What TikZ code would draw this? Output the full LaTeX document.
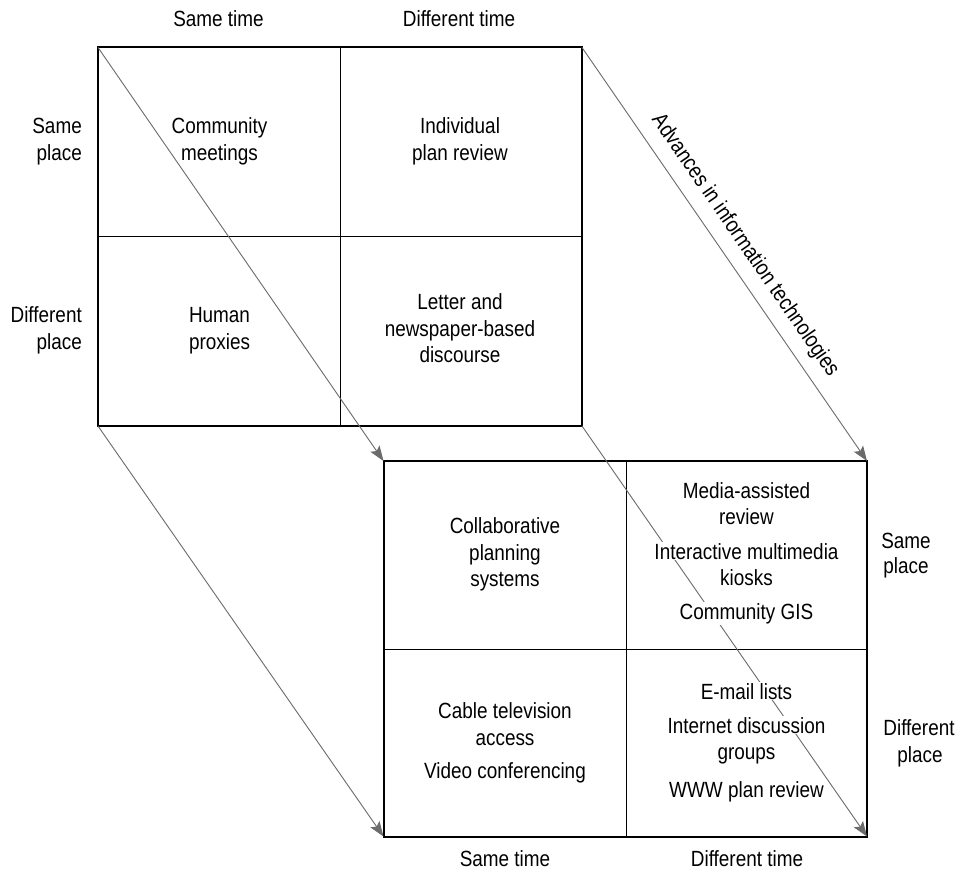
\documentclass[tikz,border=0pt]{standalone}
\usepackage{fontspec}
\setmainfont{Liberation Sans}[FakeStretch=0.86]
\usetikzlibrary{arrows.meta}
\definecolor{arr}{HTML}{6B6B6B}
\begin{document}
\begin{tikzpicture}[x=1pt,y=-1pt,
  lab/.style={font=\fontsize{22}{27}\selectfont, inner sep=0pt, anchor=base},
  mask/.style={lab, fill=white, inner sep=1pt},
  outer/.style={line width=2pt, line join=miter},
  divider/.style={line width=1pt},
  conn/.style={draw=arr, line width=0.9pt, -{Stealth[length=15pt,width=11pt,inset=3pt]}}]
\useasboundingbox[fill=white] (0,0) rectangle (959,874);

% corners of the two grids
\coordinate (Ttl) at (98,47.5);
\coordinate (Ttr) at (582,47.5);
\coordinate (Tbl) at (98,426);
\coordinate (Tbr) at (582,426);
\coordinate (Btl) at (383.5,461);
\coordinate (Btr) at (867,461);
\coordinate (Bbl) at (383.5,836.5);
\coordinate (Bbr) at (867,836.5);

% grids
\draw[divider] (340,47.5) -- (340,426);
\draw[divider] (98,237) -- (582,237);
\draw[outer] (Ttl) rectangle (Tbr);
\draw[divider] (626,461) -- (626,836.5);
\draw[divider] (383.5,649) -- (867,649);
\draw[outer] (Btl) rectangle (Bbr);

% connectors
\draw[conn] (Ttl) -- (Btl);
\draw[conn] (Ttr) -- (Btr);
\draw[conn] (Tbl) -- (Bbl);
\draw[conn] (Tbr) -- (Bbr);
\node[lab, anchor=center, rotate=-55.45] (adv) at (745,245.5) {Advances in information technologies};

% top axis labels
\node[lab] (st1) at (218.5,27) {Same time};
\node[lab] (dt1) at (459,27) {Different time};
\node[lab, anchor=base east] (sp1a) at (82,134) {Same};
\node[lab, anchor=base east] (sp1b) at (82,161) {place};
\node[lab, anchor=base east] (dp1a) at (82,323) {Different};
\node[lab, anchor=base east] (dp1b) at (82,350) {place};

% top grid cells
\node[lab] (c1a) at (219.5,134) {Community};
\node[lab] (c1b) at (219.5,161) {meetings};
\node[lab] (c2a) at (460,134) {Individual};
\node[lab] (c2b) at (460,161) {plan review};
\node[lab] (c3a) at (219.5,323) {Human};
\node[lab] (c3b) at (219.5,350) {proxies};
\node[lab] (c4a) at (460,310) {Letter and};
\node[lab] (c4b) at (460,337) {newspaper-based};
\node[lab] (c4c) at (460,363) {discourse};

% bottom grid cells
\node[lab] (d1a) at (505,533) {Collaborative};
\node[lab] (d1b) at (505,560) {planning};
\node[lab] (d1c) at (505,586) {systems};
\node[lab] (d2a) at (746.5,499) {Media-assisted};
\node[lab] (d2b) at (746.5,525) {review};
\node[mask] (d2c) at (746.5,559) {Interactive multimedia};
\node[lab] (d2d) at (746.5,585) {kiosks};
\node[mask] (d2e) at (746.5,619) {Community GIS};
\node[lab] (d3a) at (505,718) {Cable television};
\node[lab] (d3b) at (505,745) {access};
\node[lab] (d3c) at (505,778) {Video conferencing};
\node[mask] (d4a) at (746.5,699) {E-mail lists};
\node[mask] (d4b) at (746.5,733) {Internet discussion};
\node[lab] (d4c) at (746.5,759) {groups};
\node[lab] (d4d) at (746.5,797) {WWW plan review};

% bottom axis labels
\node[lab] (sp2a) at (906,548) {Same};
\node[lab] (sp2b) at (906,573) {place};
\node[lab] (dp2a) at (919,735) {Different};
\node[lab] (dp2b) at (920,762) {place};
\node[lab] (st2) at (505,866) {Same time};
\node[lab] (dt2) at (747,866) {Different time};
\end{tikzpicture}
\end{document}
